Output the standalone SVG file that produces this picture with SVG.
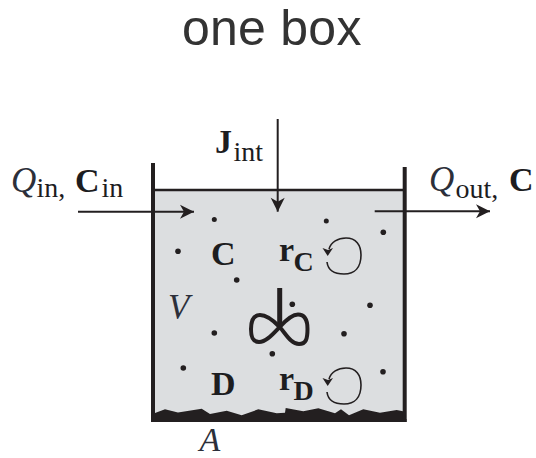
<svg xmlns="http://www.w3.org/2000/svg" width="536" height="458" viewBox="0 0 536 458">
<style>
text{font-family:"Liberation Serif","Times New Roman",serif;fill:#1d1d1f}
.title{font-family:"Liberation Sans",Arial,sans-serif;font-size:50px;letter-spacing:.25px;fill:#333}
.b{font-weight:bold;font-size:34px}
.i{font-style:italic;font-size:35px;fill:#2c2f3a}
.s{font-size:28px}
.sb{font-size:28px;font-weight:bold}
.ln{stroke:#231f20;fill:none}
.loop{stroke:#231f20;fill:none;stroke-width:1.6}
.hd{fill:#231f20}
.d{fill:#231f20}
</style>
<defs>
<marker id="ah" markerUnits="userSpaceOnUse" markerWidth="16" markerHeight="16" refX="15" refY="8" orient="auto">
<path d="M1 1L15 8L1 15L5 8Z" class="hd"/>
</marker>
<g id="swirl">
<path class="loop" d="M329 249C331 242 338 238 346 238C356 238 361 245 361 255C361 267 355 274 344 274C334 274 328 270 327 262"/>
<path class="hd" d="M322.500 248L328 250L333 248L327.700 256Z"/>
</g>
</defs>
<text class="title" x="182" y="44.500">one box</text>
<g id="tank">
<rect x="153" y="190" width="251" height="232" fill="#dcdee0"/>
<path d="M155 413L165 409.300L178 412.500L201.700 408.700L210 414L226.700 410.700L241.700 415.300L258.300 409.300L276.700 413.300L285 412.700L285.700 408L303.300 411.300L318.300 408.300L335 413.300L341 409.300L349 415.300L363.300 409.300L380 412.700L396.700 410L403 411.300V422H155Z" fill="#231f20"/>
<path class="ln" d="M153 163V422M404.700 167V422" stroke-width="4"/>
<path class="ln" d="M151 420.500H406.500" stroke-width="3"/>
<path class="ln" d="M153 190H404" stroke-width="2.500"/>
</g>
<g id="connectors">
<path class="ln" stroke-width="2" marker-end="url(#ah)" d="M78 211.700H194"/>
<path class="ln" stroke-width="2" marker-end="url(#ah)" d="M277.700 119V211.700"/>
<path class="ln" stroke-width="2" marker-end="url(#ah)" d="M374.700 211.300H490"/>
</g>
<g id="particles" class="d">
<circle cx="214.300" cy="219.500" r="2.500"/><circle cx="326.300" cy="221" r="2.500"/><circle cx="383.300" cy="232.300" r="2.800"/><circle cx="178" cy="251.300" r="2.800"/><circle cx="236.700" cy="280" r="2.800"/><circle cx="292.300" cy="304.300" r="2.800"/><circle cx="370" cy="305.300" r="2.800"/><circle cx="214.300" cy="333" r="2.800"/><circle cx="344" cy="333.700" r="2.800"/><circle cx="272.300" cy="353.700" r="2.800"/><circle cx="183.300" cy="368" r="2.800"/><circle cx="383" cy="371.700" r="2.800"/>
</g>
<g id="impeller">
<path class="ln" stroke-width="5" d="M279.700 288V327"/>
<path class="ln" stroke-width="4" d="M279.700 327C272 319 266 315 260 315C253 315 251 321 251 329C251 338 253 342 259 342C266 342 272 335 279.700 327C286 320 292 314.500 298 314.500C305 314.500 307.500 320 307.500 329C307.500 339 306 344 299 344C291 344 286 334 279.700 327Z"/>
</g>
<g id="label-in"><text class="i" x="11" y="192">Q</text><text class="s" x="36.500" y="197">in,</text><text class="b" x="75" y="192">C</text><text class="s" x="101.500" y="197">in</text></g>
<g id="label-jint"><text class="b" x="215" y="153">J</text><text class="s" x="233.500" y="161">int</text></g>
<g id="label-out"><text class="i" x="429" y="190.500">Q</text><text class="s" x="455.500" y="198">out,</text><text class="b" x="509" y="190.500">C</text></g>
<g id="node-c"><text class="b" x="211" y="265">C</text></g>
<g id="node-rc"><text class="b" x="279" y="260.700">r</text><text class="sb" x="293.500" y="270.700">C</text><use href="#swirl"/></g>
<g id="node-v"><text class="i" x="168" y="319">V</text></g>
<g id="node-d"><text class="b" x="211" y="395">D</text></g>
<g id="node-rd"><text class="b" x="279" y="390">r</text><text class="sb" x="293.500" y="400">D</text><use href="#swirl" y="130"/></g>
<g id="node-a"><text class="i" x="199.500" y="450.500" style="font-size:34px">A</text></g>
</svg>
